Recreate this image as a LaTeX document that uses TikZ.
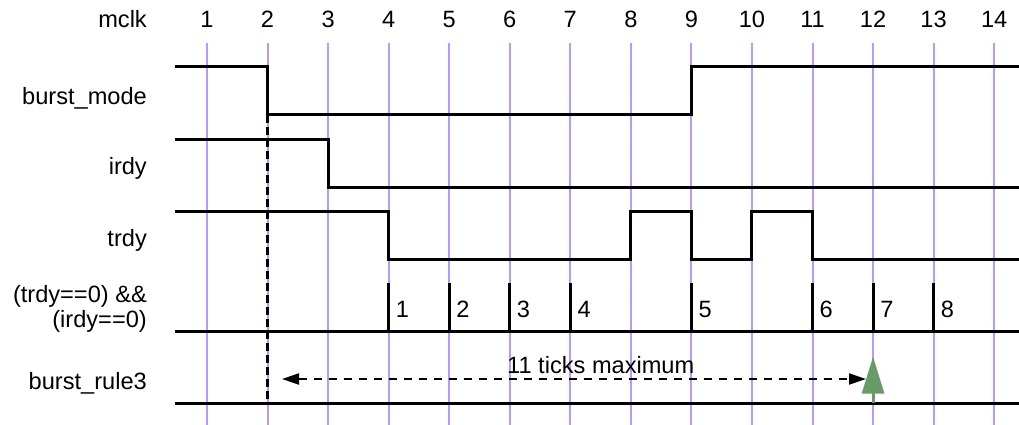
\documentclass[tikz,border=0pt]{standalone}
\usepackage{fontspec}
\setmainfont{Liberation Sans}
\usetikzlibrary{arrows.meta}
\definecolor{gridc}{RGB}{183,153,255}
\definecolor{greenc}{RGB}{103,155,103}
\begin{document}
\begin{tikzpicture}[x=1pt,y=-1pt,
  gridline/.style={draw=gridc, line width=2pt},
  sig/.style={draw=black, line width=3pt, line join=miter, line cap=rect},
  tickmark/.style={draw=black, line width=3pt},
  lbl/.style={font=\fontsize{23.6}{26}\selectfont, inner sep=0pt},
  marker/.style={draw=black, line width=3pt, dash pattern=on 8pt off 4pt},
  span/.style={draw=black, line width=2pt, dash pattern=on 8pt off 7pt,
    {Triangle[length=17pt,width=11pt]}-{Triangle[length=17pt,width=11pt]}},
  trigger/.style={draw=greenc, line width=3pt, -{Triangle[length=37pt,width=22pt]}, color=greenc},
]
\useasboundingbox (0,0) rectangle (1019,425);
% clock grid
\foreach \k in {1,...,14}{
  \coordinate (t\k) at ({207+(\k-1)*60.55},0);
  \draw[gridline] ({207+(\k-1)*60.55},43) -- ({207+(\k-1)*60.55},425);
  \node[lbl, anchor=base] (n\k) at ({207+(\k-1)*60.55},27.5) {\k};
}
% labels
\node[lbl, anchor=base east] (lmclk) at (147,27.5) {mclk};
\node[lbl, anchor=base east] (lbm) at (147,105) {burst\_mode};
\node[lbl, anchor=base east] (lirdy) at (147,174) {irdy};
\node[lbl, anchor=base east] (ltrdy) at (147,246.7) {trdy};
\node[lbl, anchor=base east] (lcomb1) at (147,302) {(trdy==0) \&\&};
\node[lbl, anchor=base east] (lcomb2) at (147,327) {(irdy==0)};
\node[lbl, anchor=base east] (lbr) at (147,389.3) {burst\_rule3};
% signals
\draw[sig] (176,67) -- (267.55,67) -- (267.55,115) -- (691.4,115) -- (691.4,67) -- (1019,67);
\draw[sig] (176,139) -- (328.1,139) -- (328.1,187) -- (1019,187);
\draw[sig] (176,211) -- (388.65,211) -- (388.65,259) -- (630.85,259) -- (630.85,211)
  -- (691.4,211) -- (691.4,259) -- (751.95,259) -- (751.95,211) -- (812.5,211)
  -- (812.5,259) -- (1019,259);
\draw[sig] (176,331) -- (1019,331);
\draw[sig] (176,403) -- (1019,403);
% combined-condition ticks
\foreach \k/\n in {4/1,5/2,6/3,7/4,9/5,11/6,12/7,13/8}{
  \draw[tickmark] ({207+(\k-1)*60.55},283) -- ({207+(\k-1)*60.55},331);
  \node[lbl, anchor=base west] (c\n) at ({207+(\k-1)*60.55+7},317.3) {\n};
}
% dashed marker at tick 2
\coordinate (mtop) at (267.55,115);
\coordinate (mbot) at (267.55,403);
\draw[marker] (mtop) -- (mbot);
% span arrow
\coordinate (sl) at (282,379);
\coordinate (sr) at (866,379);
\draw[span] (sl) -- (sr);
\node[lbl, anchor=base west] (spanlbl) at (507,373.3) {11 ticks maximum};
% green trigger arrow
\coordinate (gb) at (873.05,403);
\coordinate (gt) at (873.05,356.7);
\draw[trigger] (gb) -- (gt);
\end{tikzpicture}
\end{document}
